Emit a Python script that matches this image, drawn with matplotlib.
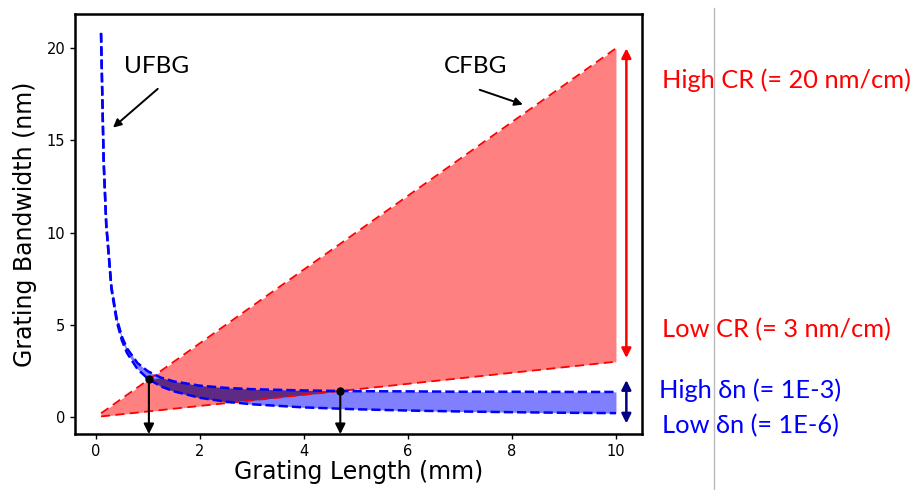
import numpy as np
import matplotlib.pyplot as plt

# grating length (mm) where the UFBG bandwidth was read
length_mm = [0.1, 0.15, 0.2, 0.3, 0.4, 0.5, 0.6, 0.8, 1.0, 1.25, 1.5, 2.0, 2.5,
             3.0, 4.0, 5.0, 6.0, 7.0, 8.0, 9.0, 10.0]
# UFBG bandwidth (nm) for high / low index modulation
ufbg_high_dn = [20.84, 13.93, 10.49, 7.06, 5.37, 4.37, 3.72, 2.93, 2.48, 2.14, 1.93,
                1.70, 1.58, 1.51, 1.44, 1.40, 1.39, 1.37, 1.37, 1.36, 1.36]
ufbg_low_dn = [20.80, 13.87, 10.40, 6.93, 5.20, 4.16, 3.47, 2.60, 2.08, 1.66, 1.39,
               1.04, 0.83, 0.69, 0.52, 0.42, 0.35, 0.30, 0.26, 0.23, 0.21]

# CFBG bandwidth (nm) for high / low chirp rate
cfbg_length = [0.1, 10.0]
cfbg_high_cr = [0.2, 20.0]
cfbg_low_cr = [0.03, 3.0]

# intersections marked with the black arrows
cross_x = [1.02, 4.7]
cross_y = [2.05, 1.41]

x = np.array(length_mm)
hi = np.array(ufbg_high_dn)
lo = np.array(ufbg_low_dn)
red_hi = np.interp(x, cfbg_length, cfbg_high_cr)
red_lo = np.interp(x, cfbg_length, cfbg_low_cr)

fig = plt.figure(figsize=(9.15, 4.9), dpi=100)
ax = fig.add_axes([0.082, 0.114, 0.6196, 0.857])

ax.fill_between(cfbg_length, cfbg_low_cr, cfbg_high_cr, color='#ff8080', lw=0)
ax.fill_between(x, lo, hi, color='#8080ff', lw=0)
# overlap of the two regions
ov_lo = np.maximum(lo, red_lo)
ov_hi = np.minimum(hi, red_hi)
ax.fill_between(x, ov_lo, ov_hi, where=ov_hi > ov_lo, interpolate=True,
                color='#5f2a82', lw=0)

ax.plot(cfbg_length, cfbg_high_cr, 'r--', lw=1.3, dashes=(5, 3))
ax.plot(cfbg_length, cfbg_low_cr, 'r--', lw=1.3, dashes=(5, 3))
ax.plot(x, hi, 'b--', lw=1.8)
ax.plot(x, lo, 'b--', lw=1.8)

ax.set_xlim(-0.4, 10.5)
ax.set_ylim(-0.93, 21.85)
ybot = ax.get_ylim()[0]

for cx, cy in zip(cross_x, cross_y):
    ax.plot(cx, cy, 'ko', ms=5)
    ax.annotate('', xy=(cx, ybot), xytext=(cx, cy),
                arrowprops=dict(arrowstyle='-|>', color='black', lw=1.5,
                                mutation_scale=15, shrinkA=0, shrinkB=0))

ax.annotate('', xy=(10.2, 20.0), xytext=(10.2, 3.2),
            arrowprops=dict(arrowstyle='<|-|>', color='red', lw=1.8,
                            mutation_scale=14, shrinkA=0, shrinkB=0))
ax.annotate('', xy=(10.2, 2.0), xytext=(10.2, -0.35),
            arrowprops=dict(arrowstyle='<|-|>', color='navy', lw=1.8,
                            mutation_scale=14, shrinkA=0, shrinkB=0))

ax.text(1.17, 19.0, 'UFBG', ha='center', va='center', fontsize=17.5, family='Lato')
ax.annotate('', xy=(0.33, 15.7), xytext=(1.19, 17.8),
            arrowprops=dict(arrowstyle='-|>', color='black', lw=1.4,
                            mutation_scale=12, shrinkA=0, shrinkB=0))
ax.text(7.31, 19.0, 'CFBG', ha='center', va='center', fontsize=17.5, family='Lato')
ax.annotate('', xy=(8.21, 16.95), xytext=(7.38, 17.75),
            arrowprops=dict(arrowstyle='-|>', color='black', lw=1.4,
                            mutation_scale=12, shrinkA=0, shrinkB=0))

ax.set_xlabel('Grating Length (mm)', fontsize=17, labelpad=1)
ax.set_ylabel('Grating Bandwidth (nm)', fontsize=17, labelpad=7)
ax.tick_params(labelsize=10.5, width=1)
for s in ax.spines.values():
    s.set_linewidth(1.8)

fs = 18.3
fig.text(662 / 915, 1 - 80 / 490, 'High CR (= 20 nm/cm)', color='red', fontsize=fs,
         family='Lato', va='center')
fig.text(662 / 915, 1 - 330 / 490, 'Low CR (= 3 nm/cm)', color='red', fontsize=fs,
         family='Lato', va='center')
fig.text(659 / 915, 1 - 390 / 490, 'High δn (= 1E-3)', color='blue', fontsize=fs,
         family='Lato', va='center')
fig.text(662 / 915, 1 - 426 / 490, 'Low δn (= 1E-6)', color='blue', fontsize=fs,
         family='Lato', va='center')

fig.add_artist(plt.Line2D([714 / 915, 714 / 915], [0, 1 - 8 / 490],
                          color='#bbbbbb', lw=1))

fig.savefig('out.png', dpi=100)
